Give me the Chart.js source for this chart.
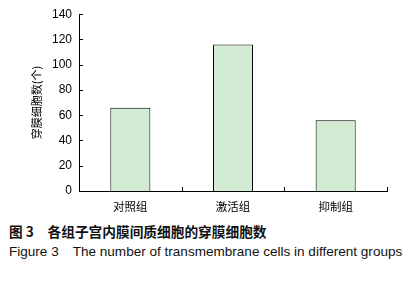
<!DOCTYPE html>
<html lang="zh">
<head>
<meta charset="UTF-8">
<title>穿膜细胞数</title>
<script src="https://cdn.jsdelivr.net/npm/chart.js"></script>
<style>
body {
	margin: 0;
	background: #fff;
	width: 418px;
	height: 282px;
	position: relative;
	overflow: hidden;
}

.chartBox {
	position: absolute;
	left: 0;
	top: 0;
	width: 418px;
	height: 220px;
}

.cap {
	position: absolute;
	left: 9px;
	white-space: pre;
	color: #111;
}

#capCn {
	top: 221px;
	font: bold 13.7px "Noto Sans CJK SC", sans-serif;
}

#capEn {
	top: 243px;
	font: 13.55px "Liberation Sans", Arial, sans-serif;
}
</style>
</head>
<body>
	<div class="chartBox">
		<canvas id="cellChart" width="418" height="220"></canvas>
	</div>
	<div class="cap" id="capCn">图 3　各组子宫内膜间质细胞的穿膜细胞数</div>
	<div class="cap" id="capEn">Figure 3　The number of transmembrane cells in different groups</div>
	<script>
		const groups = ['对照组', '激活组', '抑制组'];
		const cellCounts = [66, 116, 56];
		const yTicks = [0, 20, 40, 60, 80, 100, 120, 140];

		// small tick marks pointing into the plot, like the original figure
		const innerTicks = {
			id: 'innerTicks',
			afterDraw(chart) {
				const c = chart.ctx;
				const x = chart.scales.x;
				const y = chart.scales.y;
				c.save();
				c.strokeStyle = '#000';
				c.lineWidth = 1;
				c.beginPath();
				yTicks.forEach(v => {
					const py = Math.round(y.getPixelForValue(v)) + 0.5;
					c.moveTo(x.left, py);
					c.lineTo(x.left + 4, py);
				});
				for (let i = 1; i <= groups.length; i++) {
					const px = Math.round(x.getPixelForValue(i - 0.5)) + 0.5;
					c.moveTo(px, y.bottom);
					c.lineTo(px, y.bottom - 4);
				}
				c.stroke();
				c.restore();
			}
		};

		const ctx = document.getElementById('cellChart').getContext('2d');
		const myChart = new Chart(ctx, {
			type: 'bar',
			data: {
				labels: groups,
				datasets: [{
					data: cellCounts,
					backgroundColor: '#d2ebd2',
					borderColor: '#000',
					borderWidth: 1,
					borderSkipped: 'bottom',
					barPercentage: 0.39,
					categoryPercentage: 1
				}]
			},
			options: {
				responsive: false,
				animation: false,
				layout: {
					padding: { top: 14, right: 31, left: 0, bottom: 0 }
				},
				plugins: {
					legend: { display: false },
					tooltip: { enabled: false }
				},
				scales: {
					x: {
						grid: { display: false, drawTicks: false },
						border: { display: true, color: '#000', width: 1 },
						ticks: {
							color: '#000',
							padding: 9,
							font: { family: '"Noto Sans CJK SC"', size: 11.5 }
						},
						afterFit: s => { s.height = 29; }
					},
					y: {
						min: 0,
						max: 140,
						afterBuildTicks: s => { s.ticks = yTicks.map(v => ({ value: v })); },
						grid: { display: false, drawTicks: false },
						border: { display: true, color: '#000', width: 1 },
						ticks: {
							color: '#000',
							padding: 7,
							font: { family: '"Liberation Sans"', size: 12 }
						},
						title: {
							display: true,
							text: '穿膜细胞数(个)',
							color: '#000',
							padding: { top: 30, bottom: 0 },
							font: { family: '"Noto Sans CJK SC"', size: 11 }
						},
						afterFit: s => { s.width = 79; }
					}
				}
			},
			plugins: [innerTicks]
		});
	</script>
</body>
</html>
